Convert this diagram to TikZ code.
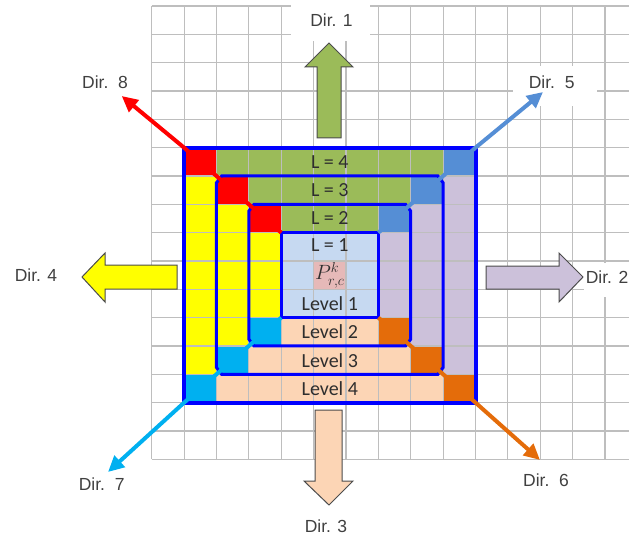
\documentclass[tikz,border=0pt]{standalone}
\usepackage{fontspec}
\setmainfont{Liberation Sans}
\newfontfamily\cellfont{Carlito}
\usetikzlibrary{arrows.meta}
\definecolor{cgreen}{HTML}{9BBB59}
\definecolor{cred}{HTML}{FF0000}
\definecolor{ccorn}{HTML}{558ED5}
\definecolor{cyellow}{HTML}{FFFF00}
\definecolor{clav}{HTML}{CCC1DA}
\definecolor{clblue}{HTML}{C6D9F1}
\definecolor{cpink}{HTML}{E6B9B8}
\definecolor{ccyan}{HTML}{00B0F0}
\definecolor{cpeach}{HTML}{FCD5B5}
\definecolor{corange}{HTML}{E46C0A}
\definecolor{cblue}{HTML}{0000FF}
\definecolor{cgrid}{HTML}{BEBEBE}
\tikzset{
  dirlabel/.style={font=\fontsize{17.5bp}{20bp}\selectfont, text=black!75, inner sep=0pt},
  celllabel/.style={font=\cellfont\fontsize{20bp}{22bp}\selectfont, text=black!82, inner sep=0pt},
  blockarrow/.style={draw=black!70, line width=1bp, line join=miter},
  gridline/.style={draw=cgrid, line width=1.1bp},
  diagarrow/.style={line width=4bp, line join=round, -{Triangle[length=16bp,width=15bp]}},
  ringline/.style={draw=cblue, line width=3bp},
  outerline/.style={draw=cblue, line width=4bp},
  whitepatch/.style={fill=white}
}
\begin{document}
\begin{tikzpicture}[x=1bp,y=-1bp]
\useasboundingbox (0,0) rectangle (629,538);

% ---------- cell fills ----------
\begin{scope}[shift={(184.08,147.65)}, x=32.38bp, y=-28.33bp]
  \fill[cred] (0,0) rectangle (1,1) (1,1) rectangle (2,2) (2,2) rectangle (3,3);
  \fill[cgreen] (1,0) rectangle (8,1) (2,1) rectangle (7,2) (3,2) rectangle (6,3);
  \fill[ccorn] (8,0) rectangle (9,1) (7,1) rectangle (8,2) (6,2) rectangle (7,3);
  \fill[cyellow] (0,1) rectangle (1,8) (1,2) rectangle (2,7) (2,3) rectangle (3,6);
  \fill[clav] (8,1) rectangle (9,8) (7,2) rectangle (8,7) (6,3) rectangle (7,6);
  \fill[clblue] (3,3) rectangle (6,6);
  \fill[cpink] (4,4) rectangle (5,5);
  \fill[ccyan] (0,8) rectangle (1,9) (1,7) rectangle (2,8) (2,6) rectangle (3,7);
  \fill[cpeach] (1,8) rectangle (8,9) (2,7) rectangle (7,8) (3,6) rectangle (6,7);
  \fill[corange] (8,8) rectangle (9,9) (7,7) rectangle (8,8) (6,6) rectangle (7,7);
\end{scope}

% ---------- grid ----------
\foreach \i in {0,...,14}
  \draw[gridline] ({151.7+32.38*\i},6) -- ({151.7+32.38*\i},459.28);
\foreach \j in {0,...,16}
  \draw[gridline] (151.7,{6+28.33*\j}) -- (629,{6+28.33*\j});

% ---------- white patches behind labels ----------
\fill[whitepatch] (291,0) rectangle (370,41);
\fill[whitepatch] (513,66) rectangle (597,106);
\fill[whitepatch] (584,263) rectangle (629,297);

% ---------- block arrows ----------
\draw[blockarrow, fill=cgreen] (317,138) -- (317,67) -- (305,67) -- (329,43) -- (353,67) -- (341,67) -- (341,138) -- cycle;
\draw[blockarrow, fill=cpeach] (315,410) -- (315,481) -- (304,481) -- (329,505) -- (353,481) -- (342,481) -- (342,410) -- cycle;
\draw[blockarrow, fill=cyellow] (177,265) -- (105,265) -- (105,253) -- (82,277) -- (105,302) -- (105,289) -- (177,289) -- cycle;
\draw[blockarrow, fill=clav] (486,266) -- (559,266) -- (559,253) -- (583,277) -- (559,302) -- (559,289) -- (486,289) -- cycle;

% ---------- blue level boundaries and corners ----------
\begin{scope}[shift={(184.08,147.65)}, x=32.38bp, y=-28.33bp]
  \coordinate (Otl) at (0,0);
  \coordinate (Otr) at (9,0);
  \coordinate (Obr) at (9,9);
  \coordinate (Obl) at (0,9);
  \coordinate (Itl) at (3,3);
  \coordinate (Itr) at (6,3);
  \coordinate (Ibr) at (6,6);
  \coordinate (Ibl) at (3,6);
  \draw[ringline] (1.16,1) -- (7.84,1) -- (8,1.24) -- (8,7.76) -- (7.84,8) -- (1.16,8) -- (1,7.76) -- (1,1.24) -- cycle;
  \draw[ringline] (2.16,2) -- (6.84,2) -- (7,2.24) -- (7,6.76) -- (6.84,7) -- (2.16,7) -- (2,6.76) -- (2,2.24) -- cycle;
  \draw[ringline] (Itl) rectangle (Ibr);
  \draw[outerline] (Otl) rectangle (Obr);
  % cell labels
  \node[celllabel] (l4) at (4.5,0.5) {L = 4};
  \node[celllabel] (l3) at (4.5,1.5) {L = 3};
  \node[celllabel] (l2) at (4.5,2.5) {L = 2};
  \node[celllabel] (l1) at (4.5,3.45) {L = 1};
  \node[celllabel] (p) at (4.5,4.5) {\fontsize{20bp}{22bp}\selectfont$P^{k}_{r,c}$};
  \node[celllabel] (lv1) at (4.5,5.5) {Level 1};
  \node[celllabel] (lv2) at (4.5,6.5) {Level 2};
  \node[celllabel] (lv3) at (4.5,7.5) {Level 3};
  \node[celllabel] (lv4) at (4.5,8.5) {Level 4};
\end{scope}

% ---------- diagonal arrows ----------
\coordinate (t8) at (121.7,96);
\coordinate (t5) at (543,92);
\coordinate (t6) at (540,460);
\coordinate (t7) at (108,472);
\draw[diagarrow, draw=cred, fill=cred] (Itl) -- (Otl) -- (t8);
\draw[diagarrow, draw=ccorn, fill=ccorn] (Itr) -- (Otr) -- (t5);
\draw[diagarrow, draw=corange, fill=corange] (Ibr) -- (Obr) -- (t6);
\draw[diagarrow, draw=ccyan, fill=ccyan] (Ibl) -- (Obl) -- (t7);

% ---------- direction labels ----------
\node[dirlabel] (d1) at (331.5,20.5) {Dir. 1};
\node[dirlabel] (d2) at (607,277) {Dir. 2};
\node[dirlabel] (d3) at (326,526) {Dir. 3};
\node[dirlabel] (d4) at (36,275.5) {Dir. 4};
\node[dirlabel] (d5) at (551.7,82) {Dir.\ \ 5};
\node[dirlabel] (d6) at (546,480.5) {Dir.\ \ 6};
\node[dirlabel] (d7) at (101.7,484.5) {Dir.\ \ 7};
\node[dirlabel] (d8) at (105,82.7) {Dir.\ \ 8};
\end{tikzpicture}
\end{document}
